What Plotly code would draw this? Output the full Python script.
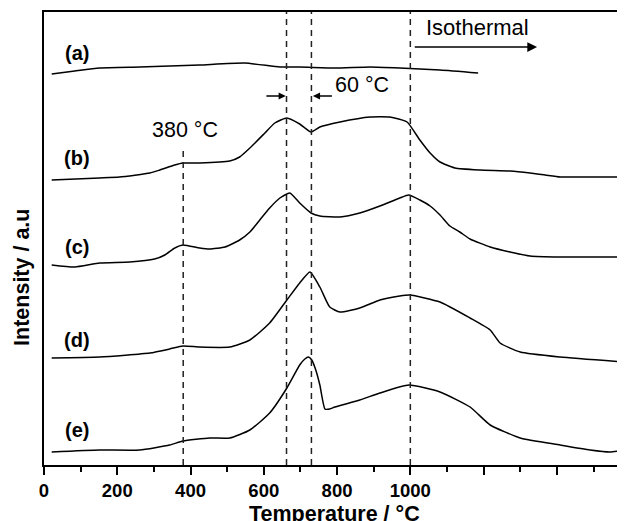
import plotly.graph_objects as go

# ---- data (temperature in °C, intensity in arbitrary units) ----
a_T = [21, 84, 152, 261, 343, 425, 548, 644, 698, 794, 890, 971, 1081, 1185]
a_I = [391, 394, 397, 398, 399, 400, 402, 398, 398, 397, 398, 397, 395, 392]

b_T = [21, 152, 206, 289, 316, 357, 379, 425, 507, 534, 562, 603, 630, 663, 698, 729,
       753, 808, 890, 944, 991, 1026, 1054, 1081, 1122, 1190, 1272, 1327, 1368, 1409, 1464, 1586]
b_I = [285, 287, 288, 292, 295, 300, 302, 302, 304, 308, 317, 332, 342, 347, 341, 333,
       338, 343, 348, 348, 343, 325, 312, 303, 297, 295, 294, 292, 290, 288, 288, 288]

c_T = [21, 84, 152, 234, 302, 330, 357, 379, 425, 452, 494, 534, 562, 589, 616, 644, 671, 698,
       729, 753, 808, 862, 917, 971, 996, 1026, 1054, 1081, 1108, 1135, 1163, 1218, 1272, 1327, 1409, 1586]
c_I = [200, 198, 202, 203, 206, 210, 217, 220, 217, 216, 218, 225, 233, 245, 257, 267, 272, 262,
       252, 249, 248, 252, 259, 267, 270, 265, 259, 250, 239, 233, 226, 218, 213, 209, 208, 208]

d_T = [21, 152, 289, 343, 379, 425, 507, 562, 616, 663, 698, 726, 753, 780, 808, 862, 917,
       971, 999, 1081, 1163, 1218, 1245, 1300, 1409, 1586]
d_I = [107, 108, 112, 116, 119, 118, 118, 125, 142, 165, 182, 193, 178, 158, 153, 157, 165,
       169, 170, 163, 147, 135, 122, 113, 108, 103]

e_T = [21, 152, 261, 343, 379, 452, 507, 562, 616, 663, 698, 712, 722, 731, 741, 753, 767, 780, 794,
       862, 917, 996, 1081, 1163, 1218, 1300, 1409, 1491, 1545, 1586]
e_I = [13, 15, 15, 20, 24, 27, 27, 35, 52, 77, 100, 106, 108, 105, 96, 80, 56, 56, 58,
       65, 72, 80, 73, 58, 40, 27, 20, 15, 13, 15]

series = [("a", a_T, a_I), ("b", b_T, b_I), ("c", c_T, c_I), ("d", d_T, d_I), ("e", e_T, e_I)]
label_y = {"a": 412, "b": 307, "c": 218, "d": 125, "e": 35}

major_ticks = [0, 200, 400, 600, 800, 1000, 1200, 1400]
tick_labels = ["0", "200", "400", "600", "800", "1000", "", ""]
minor_ticks = [100, 300, 500, 700, 900, 1100, 1300, 1500]

dash_T = [662, 730, 1000]
dash_380 = 380

FONT = "Liberation Sans, Arial, sans-serif"

fig = go.Figure()
for name, T, I in series:
    fig.add_trace(go.Scatter(x=T, y=I, mode="lines",
                             line=dict(color="black", width=1.5, shape="spline", smoothing=0.5),
                             showlegend=False, hoverinfo="skip"))

shapes = []
for t in dash_T:
    shapes.append(dict(type="line", xref="x", yref="y", x0=t, x1=t, y0=0, y1=453,
                       line=dict(color="#222", width=1.5, dash="6px,5px")))
shapes.append(dict(type="line", xref="x", yref="y", x0=dash_380, x1=dash_380, y0=0, y1=317,
                   line=dict(color="#222", width=1.5, dash="6px,5px")))

ann = []
for name, _, _ in series:
    ann.append(dict(x=89, y=label_y[name], xref="x", yref="y", text=f"({name})", showarrow=False,
                    font=dict(family=FONT, size=20, color="black", weight="bold")))
ann.append(dict(x=384, y=335, xref="x", yref="y", text="380 °C", showarrow=False,
                font=dict(family=FONT, size=21.5, color="black")))
ann.append(dict(x=868, y=380, xref="x", yref="y", text="60 °C", showarrow=False,
                font=dict(family=FONT, size=21.5, color="black")))
ann.append(dict(x=1182, y=438, xref="x", yref="y", text="Isothermal", showarrow=False,
                font=dict(family=FONT, size=22, color="black")))
# arrows
ann.append(dict(x=1346, y=418, ax=1008, ay=418, xref="x", yref="y", axref="x", ayref="y",
                text="", showarrow=True, arrowhead=2, arrowsize=1.3, arrowwidth=1.5, arrowcolor="black"))
ann.append(dict(x=660, y=369, ax=603, ay=369, xref="x", yref="y", axref="x", ayref="y",
                text="", showarrow=True, arrowhead=2, arrowsize=1.1, arrowwidth=1.3, arrowcolor="black"))
ann.append(dict(x=734, y=369, ax=790, ay=369, xref="x", yref="y", axref="x", ayref="y",
                text="", showarrow=True, arrowhead=2, arrowsize=1.1, arrowwidth=1.3, arrowcolor="black"))
# axis titles
ann.append(dict(x=-0.038, y=0.415, xref="paper", yref="paper", text="Intensity / a.u",
                textangle=-90, showarrow=False, xanchor="center", yanchor="middle",
                font=dict(family=FONT, size=21.5, color="black", weight="bold")))
ann.append(dict(x=0.5, y=-0.108, xref="paper", yref="paper", text="Temperature / °C",
                showarrow=False, xanchor="center", yanchor="middle",
                font=dict(family=FONT, size=21.5, color="black", weight="bold")))

# the page body adds an 8px offset, so the figure is 8px smaller on each side of the window
fig.update_layout(
    width=617, height=513,
    margin=dict(l=36, r=0, t=4, b=56),
    paper_bgcolor="white", plot_bgcolor="white",
    shapes=shapes, annotations=ann,
    xaxis=dict(range=[0, 1586], showline=True, linecolor="black", linewidth=1.5, mirror=True,
               showgrid=False, zeroline=False, automargin=False,
               tickmode="array", tickvals=major_ticks, ticktext=tick_labels,
               ticks="outside", ticklen=8, tickwidth=1.5, tickcolor="black",
               minor=dict(tickmode="array", tickvals=minor_ticks, ticks="outside", ticklen=5,
                          tickwidth=1.5, tickcolor="black", showgrid=False),
               tickfont=dict(family=FONT, size=18.5, color="black", weight="bold")),
    yaxis=dict(range=[0, 453], showline=True, linecolor="black", linewidth=1.5, mirror=False,
               showgrid=False, zeroline=False, showticklabels=False, ticks="", automargin=False),
)

fig.write_html("out.html")
